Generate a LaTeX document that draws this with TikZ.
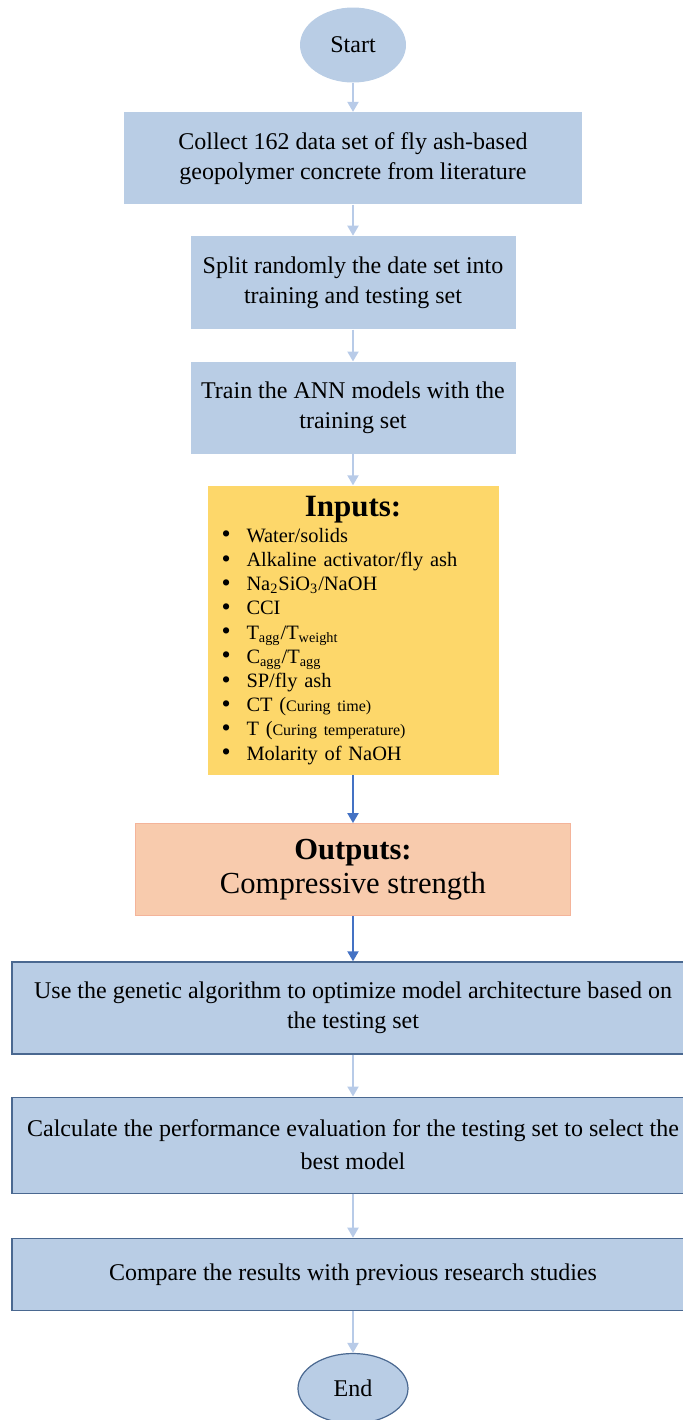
\documentclass[tikz,border=0pt]{standalone}
\usepackage{fontspec}
\setmainfont{Liberation Serif}
\usepackage{xcolor}
\usepackage{tikz}
\usetikzlibrary{positioning,arrows.meta,shapes.geometric}
\definecolor{StepBlue}{HTML}{B9CDE5}
\definecolor{StepEdge}{HTML}{4A6890}
\definecolor{FlowLight}{HTML}{B8CBE8}
\definecolor{FlowDark}{HTML}{4472C4}
\definecolor{InputGold}{HTML}{FDD76A}
\definecolor{OutputPeach}{HTML}{F8CBAD}
\definecolor{OutputEdge}{HTML}{F4B49A}
\newcommand{\inbullet}{\makebox[12.5pt][l]{\raisebox{-0.3pt}{\fontsize{13}{12}\selectfont\textbullet}}}

\begin{document}
\begin{tikzpicture}[
        terminal/.style={ellipse, fill=StepBlue, minimum width=53pt, minimum height=37.5pt, inner sep=0pt, font=\fontsize{12}{14}\selectfont},
        stepbox/.style={rectangle, fill=StepBlue, align=center, font=\fontsize{12}{15}\selectfont},
        widebox/.style={stepbox, draw=StepEdge, line width=0.6pt, minimum width=341pt},
        lightflow/.style={-{Triangle[width=5.5pt,length=5pt]}, FlowLight, line width=1pt},
        darkflow/.style={-{Triangle[width=5.5pt,length=5pt]}, FlowDark, line width=1pt}
    ]
        \useasboundingbox (0,0) rectangle (341pt,-710pt);
        \node[terminal] (start) at (176.5pt,-22.5pt) {Start};
        \node[stepbox, minimum width=229pt, minimum height=46pt, below=14.5pt of start] (collect) {Collect 162 data set of fly ash-based\\geopolymer concrete from literature};
        \node[stepbox, minimum width=162.5pt, minimum height=46.5pt, below=15.5pt of collect] (split) {Split randomly the date set into\\training and testing set};
        \node[stepbox, minimum width=162.5pt, minimum height=46pt, below=16pt of split] (train) {Train the ANN models with the\\training set};
        \node[fill=InputGold, text width=131.5pt, inner xsep=7pt, minimum height=144.5pt, align=left, font=\fontsize{10.2}{12.1}\selectfont, below=15.5pt of train] (inputs) {\makebox[\linewidth]{\fontsize{15.5}{17}\selectfont\bfseries Inputs:}\\[1pt]
            \inbullet Water/solids\\
            \inbullet Alkaline activator/fly ash\\
            \inbullet Na\textsubscript{2}SiO\textsubscript{3}/NaOH\\
            \inbullet CCI\\
            \inbullet T\textsubscript{agg}/T\textsubscript{weight}\\
            \inbullet C\textsubscript{agg}/T\textsubscript{agg}\\
            \inbullet SP/fly ash\\
            \inbullet CT ({\fontsize{8}{10}\selectfont Curing time)}\\
            \inbullet T ({\fontsize{8}{10}\selectfont Curing temperature)}\\
            \inbullet Molarity of NaOH};
        \node[fill=OutputPeach, draw=OutputEdge, line width=0.6pt, minimum width=217.5pt, minimum height=46pt, align=center, font=\fontsize{15.3}{17}\selectfont, below=24pt of inputs] (outputs) {\textbf{Outputs:}\\Compressive strength};
        \node[widebox, minimum height=46pt, below=22.5pt of outputs] (genetic) {Use the genetic algorithm to optimize model architecture based on\\the testing set};
        \node[widebox, minimum height=48pt, font=\fontsize{12}{16.5}\selectfont, below=21pt of genetic] (evaluate) {Calculate the performance evaluation for the testing set to select the\\best model};
        \node[widebox, minimum height=36pt, below=22pt of evaluate] (compare) {Compare the results with previous research studies};
        \node[terminal, draw=StepEdge, line width=0.6pt, minimum width=55pt, minimum height=35pt, below=21pt of compare] (finish) {End};

        \draw[lightflow] (start) -- (collect);
        \draw[lightflow] (collect) -- (split);
        \draw[lightflow] (split) -- (train);
        \draw[lightflow] (train) -- (inputs);
        \draw[darkflow] (inputs) -- (outputs);
        \draw[darkflow] (outputs) -- (genetic);
        \draw[lightflow] (genetic) -- (evaluate);
        \draw[lightflow] (evaluate) -- (compare);
        \draw[lightflow] (compare) -- (finish);
    \end{tikzpicture}
\end{document}
